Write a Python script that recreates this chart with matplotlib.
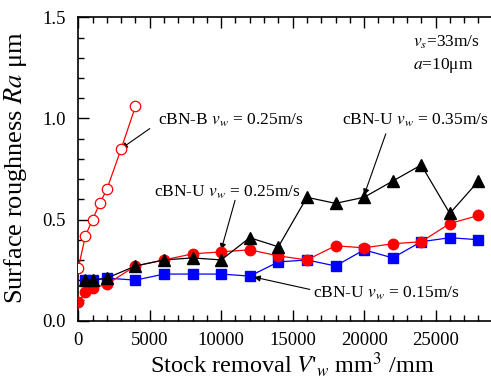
import matplotlib
matplotlib.use("Agg")
import matplotlib.pyplot as plt
from matplotlib.ticker import MultipleLocator, FixedLocator

plt.rcParams['font.family'] = ['Liberation Serif', 'DejaVu Serif']
plt.rcParams['mathtext.fontset'] = 'stix'

# cBN-B, vw = 0.25 m/s (open circles)
cbnb_x = [0, 500, 1000, 1500, 2000, 3000, 4000]
cbnb_ra = [0.26, 0.42, 0.50, 0.58, 0.65, 0.85, 1.06]

# cBN-U, vw = 0.25 m/s (red circles)
u25_x = [0, 500, 1000, 2000, 4000, 6000, 8000, 10000, 12000, 14000,
         16000, 18000, 20000, 22000, 24000, 26000, 28000]
u25_ra = [0.09, 0.14, 0.16, 0.18, 0.27, 0.30, 0.33, 0.34, 0.35, 0.32,
          0.30, 0.37, 0.36, 0.38, 0.39, 0.48, 0.52]

# cBN-U, vw = 0.15 m/s (blue squares)
u15_x = [500, 1000, 2000, 4000, 6000, 8000, 10000, 12000, 14000,
         16000, 18000, 20000, 22000, 24000, 26000, 28000]
u15_ra = [0.20, 0.20, 0.21, 0.20, 0.23, 0.23, 0.23, 0.22, 0.29,
          0.30, 0.27, 0.35, 0.31, 0.39, 0.41, 0.40]

# cBN-U, vw = 0.35 m/s (black triangles)
u35_x = [500, 1000, 2000, 4000, 6000, 8000, 10000, 12000, 14000,
         16000, 18000, 20000, 22000, 24000, 26000, 28000]
u35_ra = [0.20, 0.20, 0.21, 0.27, 0.30, 0.31, 0.30, 0.41, 0.365,
          0.61, 0.58, 0.61, 0.69, 0.77, 0.53, 0.69]

fig = plt.figure(figsize=(4.91, 3.78), dpi=100)
ax = fig.add_axes([0.1595, 0.152, 0.873, 0.8018])

ax.plot(u15_x, u15_ra, color='#0000ff', lw=0.9, marker='s', ms=6.5, zorder=3)
ax.plot(u25_x, u25_ra, color='#ff0000', lw=0.9, marker='o', ms=7.5, zorder=4)
ax.plot(u35_x, u35_ra, color='black', lw=0.9, marker='^', ms=8.5, zorder=5)
ax.plot(cbnb_x, cbnb_ra, color='#ff0000', lw=0.9, marker='o', ms=7.5,
        mfc='white', mec='#ff0000', mew=0.9, zorder=4)

ax.set_xlim(0, 30000)
ax.set_ylim(0, 1.5)
ax.xaxis.set_major_locator(FixedLocator([0, 5000, 10000, 15000, 20000, 25000]))
ax.xaxis.set_minor_locator(MultipleLocator(1000))
ax.yaxis.set_major_locator(MultipleLocator(0.5))
ax.yaxis.set_minor_locator(MultipleLocator(0.1))
ax.yaxis.set_major_formatter(plt.FormatStrFormatter('%.1f'))
ax.tick_params(which='both', direction='in', top=True, right=False, width=1)
ax.tick_params(which='major', length=8, labelsize=13.5)
ax.tick_params(axis='y', which='major', pad=9)
ax.tick_params(axis='x', which='major', pad=8)
ax.tick_params(which='minor', length=4)
ax.spines['right'].set_visible(False)
for s in ['left', 'bottom', 'top']:
    ax.spines[s].set_linewidth(1.2)

ax.set_xlabel(r"Stock removal $V$'$_{w}$ mm$^3$ /mm", fontsize=17.5, labelpad=1)
ax.set_ylabel(r"Surface roughness $Ra$ μm", fontsize=19, labelpad=4)
ax.yaxis.set_label_coords(-0.115, 0.505)

arrow = dict(arrowstyle='-|>', color='black', lw=0.8, mutation_scale=9,
             shrinkA=0, shrinkB=0)
fs = 12.5
ax.text(5550, 0.99, r"cBN-B $v_w$ = 0.25m/s", fontsize=fs, va='center')
ax.annotate('', xy=(3000, 0.851), xytext=(5000, 0.95), arrowprops=arrow)

ax.text(5300, 0.636, r"cBN-U $v_w$ = 0.25m/s", fontsize=fs, va='center')
ax.annotate('', xy=(10000, 0.35), xytext=(10970, 0.595), arrowprops=arrow)

ax.text(18440, 0.99, r"cBN-U $v_w$ = 0.35m/s", fontsize=fs, va='center')
ax.annotate('', xy=(20000, 0.62), xytext=(21520, 0.924), arrowprops=arrow)

ax.text(16450, 0.134, r"cBN-U $v_w$ = 0.15m/s", fontsize=fs, va='center')
ax.annotate('', xy=(12300, 0.215), xytext=(16200, 0.154), arrowprops=arrow)

ax.text(23400, 1.377, r"$v_s$=33m/s", fontsize=fs, va='center')
ax.text(23400, 1.262, r"$a$=10μm", fontsize=fs, va='center')

fig.savefig("out.png", dpi=100)
